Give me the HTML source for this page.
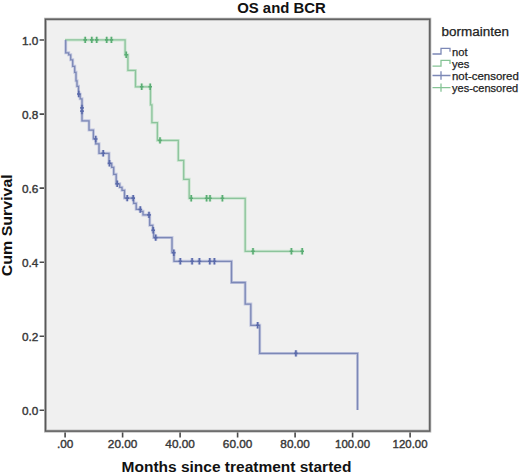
<!DOCTYPE html>
<html><head><meta charset="utf-8"><style>
html,body{margin:0;padding:0;background:#fff;width:520px;height:473px;overflow:hidden}
svg{display:block}
text{font-family:"Liberation Sans",sans-serif;fill:#333}
.tl{font-size:11.8px;fill:#383838;stroke:#383838;stroke-width:0.4px}
.tt{font-size:15px;font-weight:bold;fill:#111}
.xl{font-size:14.5px;font-weight:bold;fill:#111}
.lg{font-size:12px;fill:#222;stroke:#222;stroke-width:0.25px}
.li{font-size:11.2px;fill:#222;stroke:#222;stroke-width:0.25px}
</style></head><body>
<svg width="520" height="473" viewBox="0 0 520 473">
<rect x="45.5" y="19.2" width="384.3" height="411.9" fill="#f0f0f0"/>
<path d="M39.6,40.0 H45.5 M39.6,114.1 H45.5 M39.6,188.1 H45.5 M39.6,262.2 H45.5 M39.6,336.2 H45.5 M39.6,410.3 H45.5 M65.1,431.1 V437.4 M122.6,431.1 V437.4 M180.1,431.1 V437.4 M237.6,431.1 V437.4 M295.1,431.1 V437.4 M352.6,431.1 V437.4 M410.1,431.1 V437.4" stroke="#4a4a4a" stroke-width="1.6" fill="none"/>
<rect x="45.5" y="19.2" width="384.3" height="411.9" fill="none" stroke="#b8b8b8" stroke-width="3"/>
<rect x="45.5" y="19.2" width="384.3" height="411.9" fill="none" stroke="#585858" stroke-width="1.35"/>
<g transform="translate(0.2,0.3)">
<path d="M64.8,39.6 H124.9 V54.4 H127.7 V70.1 H135.3 V86.5 H150.3 V104.5 H151.7 V122.4 H157.2 V140.1 H178.1 V160.1 H183.5 V179 H189 V198 H245 V251 H302.5" stroke="#cde6d2" stroke-width="3" fill="none"/>
<path d="M85.0,36.4 V42.8 M83.2,39.6 H86.8 M91.6,36.4 V42.8 M89.8,39.6 H93.4 M96.5,36.4 V42.8 M94.7,39.6 H98.3 M106.5,36.4 V42.8 M104.7,39.6 H108.3 M111.2,36.4 V42.8 M109.4,39.6 H113.0 M126.0,51.2 V57.6 M124.2,54.4 H127.8 M141.5,83.3 V89.7 M139.7,86.5 H143.3 M150.0,83.3 V89.7 M148.2,86.5 H151.8 M159.8,136.9 V143.3 M158.0,140.1 H161.6 M191.0,194.8 V201.2 M189.2,198.0 H192.8 M206.4,194.8 V201.2 M204.6,198.0 H208.2 M209.8,194.8 V201.2 M208.0,198.0 H211.6 M222.2,194.8 V201.2 M220.4,198.0 H224.0 M252.8,247.8 V254.2 M251.0,251.0 H254.6 M291.2,247.8 V254.2 M289.4,251.0 H293.0 M302.0,247.8 V254.2 M300.2,251.0 H303.8" stroke="#cde6d2" stroke-width="3.2" fill="none"/>
<path d="M65.5,39.6 V52.5 H68.5 V54.5 H70.5 V59.5 H72.5 V66 H74.5 V72 H75.8 V80.5 H76.8 V86 H78.3 V94 H80 V98.5 H81.8 V120.5 H88.8 V129.8 H93.2 V138.5 H95.5 V143.5 H98.8 V153 H108.8 V163.2 H111.5 V167 H113.5 V174 H116 V183.5 H119.5 V187 H121.8 V190 H124.3 V197.8 H133.5 V203 H136 V209 H140.5 V211 H142.8 V214.6 H149.5 V225 H152.5 V230 H153.5 V237.3 H171.8 V252.3 H173.8 V261 H231.3 V282.2 H245 V303.8 H250.6 V325 H259.5 V353.1 H357.3 V409.8" stroke="#c4c8e0" stroke-width="3" fill="none"/>
<path d="M78.6,90.5 V96.9 M76.8,93.7 H80.4 M81.8,104.4 V110.8 M80.0,107.6 H83.6 M81.8,107.6 V114.0 M80.0,110.8 H83.6 M95.5,135.5 V141.9 M93.7,138.7 H97.3 M103.0,149.8 V156.2 M101.2,153.0 H104.8 M109.3,159.7 V166.1 M107.5,162.9 H111.1 M117.0,180.3 V186.7 M115.2,183.5 H118.8 M127.0,194.6 V201.0 M125.2,197.8 H128.8 M133.0,194.6 V201.0 M131.2,197.8 H134.8 M140.1,206.0 V212.4 M138.3,209.2 H141.9 M148.8,211.4 V217.8 M147.0,214.6 H150.6 M153.0,226.8 V233.2 M151.2,230.0 H154.8 M155.5,234.1 V240.5 M153.7,237.3 H157.3 M173.6,249.3 V255.7 M171.8,252.5 H175.4 M180.1,257.8 V264.2 M178.3,261.0 H181.9 M191.9,257.8 V264.2 M190.1,261.0 H193.7 M199.2,257.8 V264.2 M197.4,261.0 H201.0 M209.6,257.8 V264.2 M207.8,261.0 H211.4 M214.2,257.8 V264.2 M212.4,261.0 H216.0 M257.5,321.8 V328.2 M255.7,325.0 H259.3 M295.7,349.9 V356.3 M293.9,353.1 H297.5" stroke="#c4c8e0" stroke-width="3.2" fill="none"/>
<path d="M64.8,39.6 H124.9 V54.4 H127.7 V70.1 H135.3 V86.5 H150.3 V104.5 H151.7 V122.4 H157.2 V140.1 H178.1 V160.1 H183.5 V179 H189 V198 H245 V251 H302.5" stroke="#8cc49c" stroke-width="1.3" fill="none"/>
<path d="M85.0,36.4 V42.8 M83.2,39.6 H86.8 M91.6,36.4 V42.8 M89.8,39.6 H93.4 M96.5,36.4 V42.8 M94.7,39.6 H98.3 M106.5,36.4 V42.8 M104.7,39.6 H108.3 M111.2,36.4 V42.8 M109.4,39.6 H113.0 M126.0,51.2 V57.6 M124.2,54.4 H127.8 M141.5,83.3 V89.7 M139.7,86.5 H143.3 M150.0,83.3 V89.7 M148.2,86.5 H151.8 M159.8,136.9 V143.3 M158.0,140.1 H161.6 M191.0,194.8 V201.2 M189.2,198.0 H192.8 M206.4,194.8 V201.2 M204.6,198.0 H208.2 M209.8,194.8 V201.2 M208.0,198.0 H211.6 M222.2,194.8 V201.2 M220.4,198.0 H224.0 M252.8,247.8 V254.2 M251.0,251.0 H254.6 M291.2,247.8 V254.2 M289.4,251.0 H293.0 M302.0,247.8 V254.2 M300.2,251.0 H303.8" stroke="#5aac74" stroke-width="1.6" fill="none"/>
<path d="M65.5,39.6 V52.5 H68.5 V54.5 H70.5 V59.5 H72.5 V66 H74.5 V72 H75.8 V80.5 H76.8 V86 H78.3 V94 H80 V98.5 H81.8 V120.5 H88.8 V129.8 H93.2 V138.5 H95.5 V143.5 H98.8 V153 H108.8 V163.2 H111.5 V167 H113.5 V174 H116 V183.5 H119.5 V187 H121.8 V190 H124.3 V197.8 H133.5 V203 H136 V209 H140.5 V211 H142.8 V214.6 H149.5 V225 H152.5 V230 H153.5 V237.3 H171.8 V252.3 H173.8 V261 H231.3 V282.2 H245 V303.8 H250.6 V325 H259.5 V353.1 H357.3 V409.8" stroke="#7c88b6" stroke-width="1.3" fill="none"/>
<path d="M78.6,90.5 V96.9 M76.8,93.7 H80.4 M81.8,104.4 V110.8 M80.0,107.6 H83.6 M81.8,107.6 V114.0 M80.0,110.8 H83.6 M95.5,135.5 V141.9 M93.7,138.7 H97.3 M103.0,149.8 V156.2 M101.2,153.0 H104.8 M109.3,159.7 V166.1 M107.5,162.9 H111.1 M117.0,180.3 V186.7 M115.2,183.5 H118.8 M127.0,194.6 V201.0 M125.2,197.8 H128.8 M133.0,194.6 V201.0 M131.2,197.8 H134.8 M140.1,206.0 V212.4 M138.3,209.2 H141.9 M148.8,211.4 V217.8 M147.0,214.6 H150.6 M153.0,226.8 V233.2 M151.2,230.0 H154.8 M155.5,234.1 V240.5 M153.7,237.3 H157.3 M173.6,249.3 V255.7 M171.8,252.5 H175.4 M180.1,257.8 V264.2 M178.3,261.0 H181.9 M191.9,257.8 V264.2 M190.1,261.0 H193.7 M199.2,257.8 V264.2 M197.4,261.0 H201.0 M209.6,257.8 V264.2 M207.8,261.0 H211.4 M214.2,257.8 V264.2 M212.4,261.0 H216.0 M257.5,321.8 V328.2 M255.7,325.0 H259.3 M295.7,349.9 V356.3 M293.9,353.1 H297.5" stroke="#5a6aaa" stroke-width="1.6" fill="none"/>
</g>
<text x="38.4" y="44.7" text-anchor="end" class="tl">1.0</text>
<text x="38.4" y="118.8" text-anchor="end" class="tl">0.8</text>
<text x="38.4" y="192.8" text-anchor="end" class="tl">0.6</text>
<text x="38.4" y="266.9" text-anchor="end" class="tl">0.4</text>
<text x="38.4" y="340.9" text-anchor="end" class="tl">0.2</text>
<text x="38.4" y="415.0" text-anchor="end" class="tl">0.0</text>
<text x="65.1" y="447.9" text-anchor="middle" class="tl">.00</text>
<text x="122.6" y="447.9" text-anchor="middle" class="tl">20.00</text>
<text x="180.1" y="447.9" text-anchor="middle" class="tl">40.00</text>
<text x="237.6" y="447.9" text-anchor="middle" class="tl">60.00</text>
<text x="295.1" y="447.9" text-anchor="middle" class="tl">80.00</text>
<text x="352.6" y="447.9" text-anchor="middle" class="tl" textLength="35.0" lengthAdjust="spacingAndGlyphs">100.00</text>
<text x="410.1" y="447.9" text-anchor="middle" class="tl" textLength="35.0" lengthAdjust="spacingAndGlyphs">120.00</text>
<text x="237.2" y="13.3" class="tt" textLength="88.6" lengthAdjust="spacingAndGlyphs">OS and BCR</text>
<text x="121.6" y="471.5" class="xl" textLength="229.8" lengthAdjust="spacingAndGlyphs">Months since treatment started</text>
<text transform="translate(12.0,276.2) rotate(-90)" x="0" y="0" class="xl" textLength="102" lengthAdjust="spacingAndGlyphs">Cum Survival</text>
<text x="441.6" y="36.4" class="lg" textLength="67.3" lengthAdjust="spacingAndGlyphs">bormainten</text>
<path d="M432.5,54.0 H441 V48.3 H450 V51.8" stroke="#7c88b6" stroke-width="1.3" fill="none"/>
<text x="452" y="55.5" class="li">not</text>
<path d="M432.5,66.1 H441 V60.4 H450 V63.9" stroke="#86c496" stroke-width="1.3" fill="none"/>
<text x="452" y="67.6" class="li">yes</text>
<path d="M432.5,75.5 H450.5 M441,71.3 V79.7" stroke="#7c88b6" stroke-width="1.3" fill="none"/>
<text x="452" y="79.7" class="li" textLength="66.8" lengthAdjust="spacingAndGlyphs">not-censored</text>
<path d="M432.5,87.6 H450.5 M441,83.4 V91.8" stroke="#86c496" stroke-width="1.3" fill="none"/>
<text x="452" y="91.8" class="li" textLength="66.2" lengthAdjust="spacingAndGlyphs">yes-censored</text>
</svg>
</body></html>
